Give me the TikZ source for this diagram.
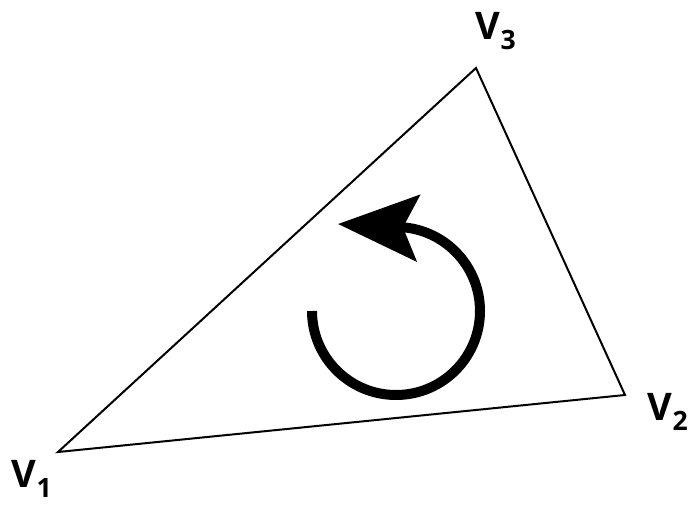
\documentclass[tikz,border=0pt]{standalone}
\usepackage{fontspec}
\setsansfont{Open Sans}
\usetikzlibrary{arrows.meta}

\begin{document}
\begin{tikzpicture}[
  x=1pt, y=-1pt,
  edge/.style={draw=black, line width=2pt, line join=miter},
  vlabel/.style={font=\sffamily\bfseries\fontsize{38}{38}\selectfont, inner sep=0pt},
  turn/.style={line width=10pt, -{Stealth[length=80pt, width=66pt, inset=15pt]}}
]
  \useasboundingbox (0,0) rectangle (698,508);
  % corners of the triangle
  \coordinate (v1) at (58,452);
  \coordinate (v2) at (625,395);
  \coordinate (v3) at (476,68);
  \coordinate (c) at (396,311);
  \draw[edge] (v1) -- (v2) -- (v3) -- cycle;
  \node[vlabel] (l1) at (32,479) {V\textsubscript{1}};
  \node[vlabel] (l2) at (668,412) {V\textsubscript{2}};
  \node[vlabel] (l3) at (496,31) {V\textsubscript{3}};
  % orientation arrow
  \draw[turn] (c) ++(180:84) arc[start angle=180, end angle=-90, radius=84] -- ++(-58,-3);
\end{tikzpicture}
\end{document}
